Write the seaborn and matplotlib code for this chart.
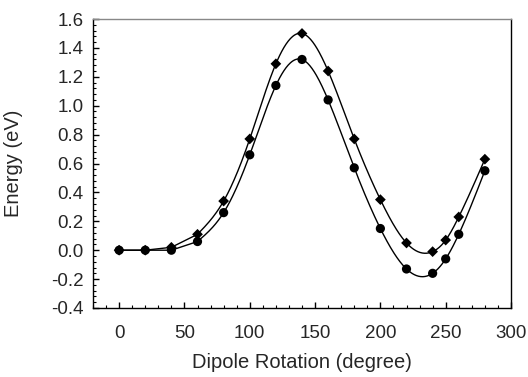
import numpy as np
import pandas as pd
import matplotlib
matplotlib.use("Agg")
import matplotlib.pyplot as plt
import seaborn as sns
from matplotlib.ticker import MultipleLocator

# ---- data ----
angles = [0, 20, 40, 60, 80, 100, 120, 140, 160, 180, 200, 220, 240, 250, 260, 280]
energy_diamond = [0.00, 0.00, 0.02, 0.11, 0.34, 0.77, 1.29, 1.50, 1.24, 0.77, 0.35, 0.05, -0.01, 0.07, 0.23, 0.63]
energy_circle = [0.00, 0.00, 0.00, 0.06, 0.26, 0.66, 1.14, 1.32, 1.04, 0.57, 0.15, -0.13, -0.16, -0.06, 0.11, 0.55]
x_ticks = [0, 50, 100, 150, 200, 250, 300]
y_ticks = [-0.4, -0.2, 0.0, 0.2, 0.4, 0.6, 0.8, 1.0, 1.2, 1.4, 1.6]


def natural_spline(x, y, xs):
    x = np.asarray(x, float)
    y = np.asarray(y, float)
    n = len(x)
    h = np.diff(x)
    A = np.zeros((n, n))
    b = np.zeros(n)
    A[0, 0] = 1
    A[-1, -1] = 1
    for i in range(1, n - 1):
        A[i, i - 1] = h[i - 1]
        A[i, i] = 2 * (h[i - 1] + h[i])
        A[i, i + 1] = h[i]
        b[i] = 6 * ((y[i + 1] - y[i]) / h[i] - (y[i] - y[i - 1]) / h[i - 1])
    M = np.linalg.solve(A, b)
    idx = np.clip(np.searchsorted(x, xs) - 1, 0, n - 2)
    x0, x1 = x[idx], x[idx + 1]
    hh = x1 - x0
    return (M[idx] * (x1 - xs) ** 3 / (6 * hh) + M[idx + 1] * (xs - x0) ** 3 / (6 * hh)
            + (y[idx] / hh - M[idx] * hh / 6) * (x1 - xs)
            + (y[idx + 1] / hh - M[idx + 1] * hh / 6) * (xs - x0))


def curve(x, y):
    x = np.asarray(x, float)
    y = np.asarray(y, float)
    start = 3  # straight segments before 60 deg, smooth curve afterwards
    xs = np.linspace(x[start], x[-1], 400)
    ys = natural_spline(x[start:], y[start:], xs)
    return np.concatenate([x[:start], xs]), np.concatenate([y[:start], ys])


sns.set_style("ticks")
plt.rcParams["font.family"] = ["Liberation Sans", "DejaVu Sans"]

fig = plt.figure(figsize=(5.28, 3.77), dpi=100)
ax = fig.add_axes([93 / 528, 1 - 308 / 377, (511 - 93) / 528, (308 - 19) / 377])

pts = pd.DataFrame({"angle": angles, "diamond": energy_diamond, "circle": energy_circle})
for col in ["diamond", "circle"]:
    cx, cy = curve(pts["angle"], pts[col])
    sns.lineplot(x=cx, y=cy, ax=ax, color="black", lw=1.0, sort=False, estimator=None)

sns.scatterplot(data=pts, x="angle", y="diamond", ax=ax, marker="D", s=30,
                color="black", edgecolor="none", zorder=3)
sns.scatterplot(data=pts, x="angle", y="circle", ax=ax, marker="o", s=44,
                color="black", edgecolor="none", zorder=3)

ax.set_xlim(-20, 300)
ax.set_ylim(-0.4, 1.6)
ax.set_xticks(x_ticks)
ax.set_yticks(y_ticks)
ax.set_yticklabels([f"{v:.1f}" for v in y_ticks])
ax.xaxis.set_minor_locator(MultipleLocator(10))
ax.yaxis.set_minor_locator(MultipleLocator(0.04))
ax.tick_params(which="both", direction="in", top=False, right=False, color="black")
ax.tick_params(which="major", length=4, width=1, labelsize=13.5)
ax.tick_params(which="minor", length=2.5, width=0.8)
ax.tick_params(axis="y", which="major", pad=7)
ax.tick_params(axis="x", which="major", pad=12)
for s in ax.spines.values():
    s.set_visible(True)
    s.set_color("black")
    s.set_linewidth(1.0)
ax.spines["top"].set_color("#888888")

ax.set_xlabel("Dipole Rotation (degree)", fontsize=14.5)
ax.set_ylabel("Energy (eV)", fontsize=14.5)
ax.xaxis.set_label_coords(0.5, -(368 - 308) / (308 - 19))
ax.xaxis.label.set_va("baseline")
ax.yaxis.set_label_coords(-(93 - 4) / (511 - 93), 0.5)
ax.yaxis.label.set_va("top")

fig.savefig("out.png", dpi=100)
